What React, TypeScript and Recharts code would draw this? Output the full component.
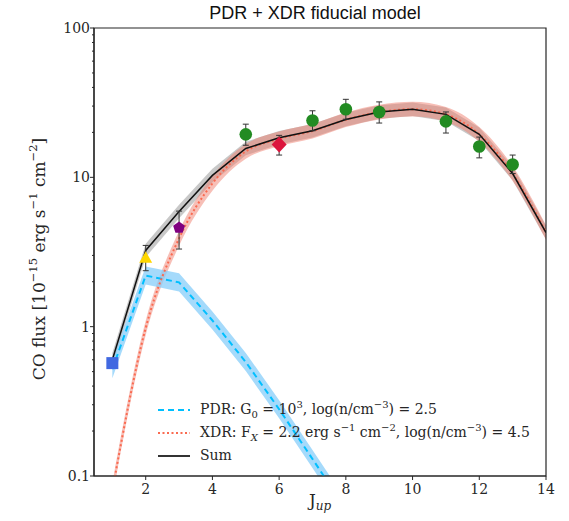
import React from 'react';
import { ComposedChart, Line, Area, Scatter, ErrorBar, XAxis, YAxis, ReferenceArea } from 'recharts';

// model curves, one value per upper J level
const jUp = [1, 2, 3, 4, 5, 6, 7, 8, 9, 10, 11, 12, 13, 14];
const pdrFlux = [0.52, 2.2, 1.98, 1.1, 0.58, 0.28, 0.13, 0.06, 0.025, 0.01, 0.004, 0.0016, 0.0006, 0.0002];
const xdrFlux = [0.08, 0.98, 3.9, 9.1, 14.9, 18.1, 20.4, 24.3, 27.35, 28.6, 26.4, 19.4, 10.6, 4.27];
const sumFlux = [0.6, 3.24, 5.9, 10.3, 15.6, 18.4, 20.5, 24.4, 27.4, 28.6, 26.4, 19.4, 10.6, 4.27];

// model uncertainty (fractional) shown as the shaded bands
const pdrSpread = 1.15;
const xdrSpread = 1.12;
const sumSpread = 1.11;

// observed line fluxes
const obsJ = [1, 2, 3, 5, 6, 7, 8, 9, 11, 12, 13];
const obsFlux = [0.57, 2.87, 4.64, 19.4, 16.6, 24.0, 28.6, 27.4, 23.7, 16.1, 12.2];
const obsLow = [0.57, 2.37, 3.31, 16.4, 14.1, 20.5, 24.5, 23.1, 19.8, 13.5, 10.6];
const obsHigh = [0.57, 3.5, 5.94, 22.7, 19.1, 27.9, 33.3, 32.0, 27.4, 18.6, 14.1];

const squareJ = [1];
const triangleJ = [2];
const pentagonJ = [3];
const diamondJ = [6];

const xTicks = [2, 4, 6, 8, 10, 12, 14];
const yMajorTicks = [0.1, 1, 10, 100];
const yMinorTicks = [
  0.2, 0.3, 0.4, 0.5, 0.6, 0.7, 0.8, 0.9,
  2, 3, 4, 5, 6, 7, 8, 9,
  20, 30, 40, 50, 60, 70, 80, 90,
];

const modelRows = jUp.map((j, i) => ({
  J: j,
  pdr: pdrFlux[i],
  xdr: xdrFlux[i],
  sum: sumFlux[i],
  pdrBand: [pdrFlux[i] / pdrSpread, pdrFlux[i] * pdrSpread],
  xdrBand: [xdrFlux[i] / xdrSpread, xdrFlux[i] * xdrSpread],
  sumBand: [sumFlux[i] / sumSpread, sumFlux[i] * sumSpread],
}));

const obsRows = obsJ.map((j, i) => ({
  J: j,
  flux: obsFlux[i],
  err: [obsFlux[i] - obsLow[i], obsHigh[i] - obsFlux[i]],
}));

const pick = (js: number[]) => obsRows.filter((r) => js.includes(r.J));
const special = [...squareJ, ...triangleJ, ...pentagonJ, ...diamondJ];
const circleRows = obsRows.filter((r) => !special.includes(r.J));

const serif = '"DejaVu Serif", serif';
const ink = '#262626';

const SquareDot = ({ cx, cy }: any) => (
  <rect x={cx - 6} y={cy - 6} width={12} height={12} fill="#4169e1" />
);
const TriangleDot = ({ cx, cy }: any) => (
  <polygon points={`${cx},${cy - 7} ${cx - 6.5},${cy + 4.5} ${cx + 6.5},${cy + 4.5}`} fill="#ffd700" />
);
const PentagonDot = ({ cx, cy }: any) => {
  const r = 6.2;
  const pts = [0, 1, 2, 3, 4]
    .map((k) => {
      const a = -Math.PI / 2 + (k * 2 * Math.PI) / 5;
      return `${cx + r * Math.cos(a)},${cy + r * Math.sin(a) + 0.6}`;
    })
    .join(' ');
  return <polygon points={pts} fill="#800080" />;
};
const DiamondDot = ({ cx, cy }: any) => (
  <polygon points={`${cx},${cy - 8} ${cx + 7.5},${cy} ${cx},${cy + 8} ${cx - 7.5},${cy}`} fill="#dc143c" />
);
const CircleDot = ({ cx, cy }: any) => <circle cx={cx} cy={cy} r={6.3} fill="#228b22" />;

const YTick = ({ x, y, payload }: any) => {
  const major = yMajorTicks.includes(payload.value);
  return (
    <g>
      <line x1={x} x2={x - (major ? 4 : 2)} y1={y} y2={y} stroke={ink} strokeWidth={1} />
      {major && (
        <text x={x - 4} y={y} dy="0.36em" textAnchor="end" fontFamily={serif} fontSize={14} fill={ink}>
          {String(payload.value)}
        </text>
      )}
    </g>
  );
};

const XTick = ({ x, y, payload }: any) => (
  <g>
    <line x1={x} x2={x} y1={y} y2={y + 4} stroke={ink} strokeWidth={1} />
    <text x={x} y={y + 18} textAnchor="middle" fontFamily={serif} fontSize={14} fill={ink}>
      {payload.value}
    </text>
  </g>
);

const YTitle = () => (
  <text
    x={39}
    y={259}
    transform="rotate(-90 39 259)"
    textAnchor="middle"
    dominantBaseline="central"
    fontFamily={serif}
    fontSize={17}
    fill={ink}
  >
    CO flux [10
    <tspan dy={-6} fontSize={11.5}>−15</tspan>
    <tspan dy={6}> erg s</tspan>
    <tspan dy={-6} fontSize={11.5}>−1</tspan>
    <tspan dy={6}> cm</tspan>
    <tspan dy={-6} fontSize={11.5}>−2</tspan>
    <tspan dy={6}>]</tspan>
  </text>
);

const XTitle = () => (
  <text x={320} y={506} textAnchor="middle" fontFamily={serif} fontSize={17} fill={ink}>
    J
    <tspan dy={4} fontSize={12} fontStyle="italic">up</tspan>
  </text>
);

const legendItems = [
  {
    sample: <line x1={1} x2={33} y1={5} y2={5} stroke="#00bfff" strokeWidth={2} strokeDasharray="6 4" />,
    text: (
      <>
        PDR: G<sub style={{ fontSize: 10, lineHeight: 0 }}>0</sub> = 10
        <sup style={{ fontSize: 10, lineHeight: 0 }}>3</sup>, log(n/cm
        <sup style={{ fontSize: 10, lineHeight: 0 }}>−3</sup>) = 2.5
      </>
    ),
  },
  {
    sample: <line x1={1} x2={33} y1={5} y2={5} stroke="#fa6a50" strokeWidth={2} strokeDasharray="2 2.5" />,
    text: (
      <>
        XDR: F<sub style={{ fontSize: 10, lineHeight: 0, fontStyle: 'italic' }}>X</sub> = 2.2 erg s
        <sup style={{ fontSize: 10, lineHeight: 0 }}>−1</sup> cm
        <sup style={{ fontSize: 10, lineHeight: 0 }}>−2</sup>, log(n/cm
        <sup style={{ fontSize: 10, lineHeight: 0 }}>−3</sup>) = 4.5
      </>
    ),
  },
  {
    sample: <line x1={1} x2={33} y1={5} y2={5} stroke="#333" strokeWidth={2} />,
    text: <>Sum</>,
  },
];

export default function App() {
  return (
    <div style={{ position: 'absolute', left: 0, top: 0, width: 569, height: 521, background: '#fff' }}>
      <div
        style={{
          position: 'absolute',
          left: 0,
          width: 630,
          top: 3,
          textAlign: 'center',
          fontFamily: '"Liberation Sans", Arial, sans-serif',
          fontSize: 18,
          color: '#111',
        }}
      >
        PDR + XDR fiducial model
      </div>
      <ComposedChart width={569} height={521} data={modelRows} margin={{ top: 28, right: 23, bottom: 15, left: 34 }}>
        <XAxis
          type="number"
          dataKey="J"
          domain={[0.45, 14]}
          ticks={xTicks}
          interval={0}
          allowDataOverflow
          height={30}
          tickSize={0}
          tickMargin={0}
          tickLine={false}
          axisLine={{ stroke: ink, strokeWidth: 1.2 }}
          tick={<XTick />}
          label={<XTitle />}
        />
        <YAxis
          type="number"
          scale="log"
          domain={[0.1, 100]}
          ticks={[...yMajorTicks, ...yMinorTicks]}
          interval={0}
          allowDataOverflow
          width={60}
          tickSize={0}
          tickMargin={0}
          tickLine={false}
          axisLine={{ stroke: ink, strokeWidth: 1.2 }}
          tick={<YTick />}
          label={<YTitle />}
        />
        <Area type="linear" dataKey="sumBand" stroke="none" fill="#9a9a9a" fillOpacity={0.55} isAnimationActive={false} />
        <Area type="monotone" dataKey="xdrBand" stroke="none" fill="#f08070" fillOpacity={0.5} isAnimationActive={false} />
        <Area type="linear" dataKey="pdrBand" stroke="none" fill="#87cefa" fillOpacity={0.75} isAnimationActive={false} />
        <Line type="linear" dataKey="pdr" stroke="#00bfff" strokeWidth={2} strokeDasharray="6 4" dot={false} activeDot={false} isAnimationActive={false} />
        <Line type="monotone" dataKey="xdr" stroke="#fa6a50" strokeWidth={2} strokeDasharray="2 2.5" dot={false} activeDot={false} isAnimationActive={false} />
        <Line type="linear" dataKey="sum" stroke="#111" strokeWidth={1.5} dot={false} activeDot={false} isAnimationActive={false} />
        <Scatter data={pick(squareJ)} dataKey="flux" shape={<SquareDot />} isAnimationActive={false} />
        <Scatter data={pick(triangleJ)} dataKey="flux" shape={<TriangleDot />} isAnimationActive={false}>
          <ErrorBar dataKey="err" direction="y" width={3} stroke="#333" strokeWidth={1} />
        </Scatter>
        <Scatter data={pick(pentagonJ)} dataKey="flux" shape={<PentagonDot />} isAnimationActive={false}>
          <ErrorBar dataKey="err" direction="y" width={3} stroke="#333" strokeWidth={1} />
        </Scatter>
        <Scatter data={pick(diamondJ)} dataKey="flux" shape={<DiamondDot />} isAnimationActive={false}>
          <ErrorBar dataKey="err" direction="y" width={3} stroke="#333" strokeWidth={1} />
        </Scatter>
        <Scatter data={circleRows} dataKey="flux" shape={<CircleDot />} isAnimationActive={false}>
          <ErrorBar dataKey="err" direction="y" width={3} stroke="#333" strokeWidth={1} />
        </Scatter>
        <ReferenceArea x1={0.45} x2={14} y1={0.1} y2={100} fill="none" stroke={ink} strokeWidth={1.2} />
      </ComposedChart>
      <div
        style={{
          position: 'absolute',
          left: 157,
          top: 398,
          fontFamily: serif,
          fontSize: 14,
          color: ink,
          lineHeight: '23px',
        }}
      >
        {legendItems.map((item, i) => (
          <div key={i} style={{ display: 'flex', alignItems: 'center', height: 23, whiteSpace: 'nowrap' }}>
            <svg width={34} height={10} style={{ marginRight: 9 }}>
              {item.sample}
            </svg>
            <span>{item.text}</span>
          </div>
        ))}
      </div>
    </div>
  );
}
